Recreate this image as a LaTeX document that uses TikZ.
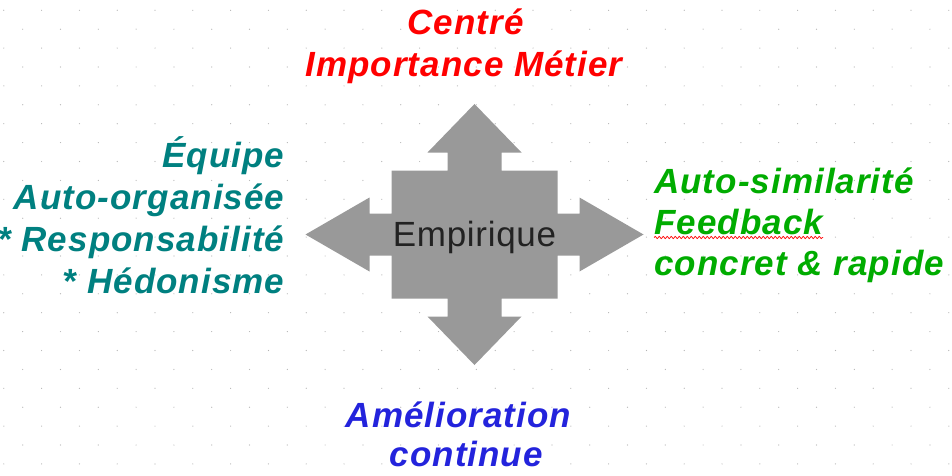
\documentclass[tikz,border=0pt]{standalone}
\usepackage{fontspec}
\setmainfont{Liberation Sans}
\newfontfamily\labelfont{Liberation Sans}[LetterSpace=3]
\newfontfamily\centrefont{Liberation Sans}[LetterSpace=2]
\usetikzlibrary{positioning,decorations.pathmorphing}

\definecolor{metier}{HTML}{FF0000}
\definecolor{equipe}{HTML}{008080}
\definecolor{feedback}{HTML}{00AC00}
\definecolor{amelio}{HTML}{2323DC}
\definecolor{flechegris}{HTML}{999999}
\definecolor{texte}{HTML}{222222}
\definecolor{grille}{HTML}{B4B4B4}

\begin{document}
\begin{tikzpicture}[x=1pt,y=-1pt,
                lbl/.style={font=\labelfont\bfseries\itshape\fontsize{35}{42}\selectfont,inner sep=0pt},
                squiggle/.style={draw=red,line width=0.7pt,decorate,decoration={snake,amplitude=1.1pt,segment length=4pt}}]
                \path[use as bounding box,fill=white](0,0)rectangle(952,476);
                % grille de points
                \foreach \j in {0,2,...,24}
                    \foreach \i in {0,2,...,50}
                        \fill[grille]({3.8+18.9*\i},{10.3+18.9*\j})circle[radius=0.6pt];
                \foreach \j in {1,3,...,25}
                    \foreach \i in {1,3,...,49}
                        \fill[grille]({3.8+18.9*\i},{10.3+18.9*\j})circle[radius=0.6pt];
                % fleche a quatre branches
                \coordinate(C)at(474.5, 234.5);
                \fill[flechegris,shift={(C)}](0,-130.5)--(47,-82)--(27,-82)--(27,-64)--(83,-64)--(83,-21)
                    --(105,-21)--(105,-37)--(169,0)--(105,37)--(105,21)--(83,21)--(83,64)--(27,64)
                    --(27,82)--(47,82)--(0,130.5)--(-47,82)--(-27,82)--(-27,64)--(-83,64)--(-83,21)
                    --(-105,21)--(-105,37)--(-169,0)--(-105,-37)--(-105,-21)--(-83,-21)--(-83,-64)
                    --(-27,-64)--(-27,-82)--(-47,-82)--cycle;
                \node[inner sep=0pt,anchor=base,text=texte,font=\centrefont\fontsize{35}{42}\selectfont](Empirique)at(474.5, 246.7){Empirique};
                % haut
                \node[lbl,anchor=base,text=metier](Centre)at(465.5, 35){Centré};
                \node[lbl,anchor=base,text=metier](Metier)at(464, 76.7){Importance Métier};
                % gauche
                \node[lbl,anchor=base east,text=equipe](Equipe)at(284.5, 167.5){Équipe};
                \node[lbl,anchor=base east,text=equipe](AutoOrg)at(284.5, 209.5){Auto-organisée};
                \node[lbl,anchor=base east,text=equipe](Respons)at(284.5, 251.5){* Responsabilité};
                \node[lbl,anchor=base east,text=equipe](Hedon)at(284.5, 293.5){* Hédonisme};
                % droite
                \node[lbl,anchor=base west,text=feedback](AutoSim)at(654, 193.3){Auto-similarité};
                \node[lbl,anchor=base west,text=feedback](Feedback)at(654, 234){Feedback};
                \node[lbl,anchor=base west,text=feedback](Concret)at(654, 275){concret \& rapide};
                \path[squiggle]([yshift=-3.5pt]Feedback.base west)--([yshift=-3.5pt]Feedback.base east);
                % bas
                \node[lbl,anchor=base,text=amelio](Amelio)at(458.5, 427.7){Amélioration};
                \node[lbl,anchor=base,text=amelio](Continue)at(466.3, 466.7){continue};
            \end{tikzpicture}
\end{document}
